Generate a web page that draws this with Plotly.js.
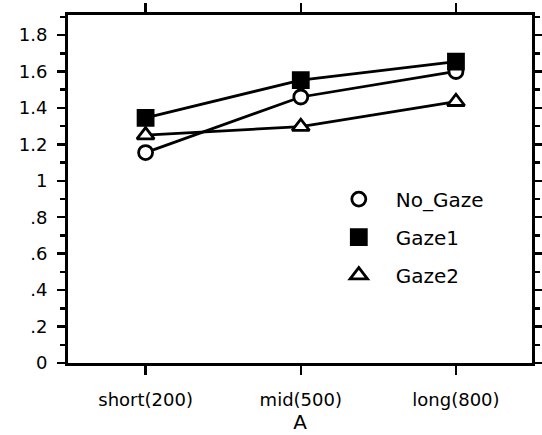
<!DOCTYPE html>
<html><head><meta charset="utf-8">
<script src="https://cdn.plot.ly/plotly-3.0.1.min.js"></script>
<style>html,body{margin:0;padding:0;background:#fff;}#chart{width:542px;height:435px;}</style>
</head><body><div id="chart"></div>
<script>
var categories = ['short(200)', 'mid(500)', 'long(800)'];
var noGaze = [1.155, 1.46, 1.60];
var gaze1 = [1.345, 1.553, 1.654];
var gaze2 = [1.251, 1.297, 1.434];
var yTickVals = [0, 0.2, 0.4, 0.6, 0.8, 1, 1.2, 1.4, 1.6, 1.8];
var yTickText = ['0', '.2', '.4', '.6', '.8', '1', '1.2', '1.4', '1.6', '1.8'];

var FONT = 'DejaVu Sans, Arial, sans-serif';
var series = [
  {name: 'No_Gaze', ys: noGaze, symbol: 'circle', size: 14, fill: '#fff', g: 'a'},
  {name: 'Gaze1', ys: gaze1, symbol: 'square', size: 15, fill: '#000', g: 'b'},
  {name: 'Gaze2', ys: gaze2, symbol: 'triangle-up', size: 15, fill: '#fff', g: 'c'}
];
var data = [];
series.forEach(function (s) {
  data.push({x: categories, y: s.ys, type: 'scatter', mode: 'lines', showlegend: false,
             hoverinfo: 'skip', line: {color: '#000', width: 2.8}});
});
series.forEach(function (s) {
  data.push({x: categories, y: s.ys, name: s.name, type: 'scatter', mode: 'markers',
             legendgroup: s.g,
             marker: {symbol: s.symbol, size: s.size, color: s.fill, line: {color: '#000', width: 2.8}}});
});

var layout = {
  width: 542, height: 435,
  margin: {l: 68, r: 10, t: 15, b: 72},
  paper_bgcolor: '#fff', plot_bgcolor: '#fff',
  font: {family: FONT, size: 18, color: '#000'},
  showlegend: true,
  legend: {x: 0.547, y: 0.527, xanchor: 'left', yanchor: 'top', bgcolor: 'rgba(0,0,0,0)',
           itemwidth: 64,
           traceorder: 'grouped', tracegroupgap: 9, font: {family: FONT, size: 20, color: '#000'}},
  xaxis: {
    type: 'category', range: [-0.5, 2.49], showgrid: false, zeroline: false,
    showline: true, linecolor: '#000', linewidth: 3, mirror: 'ticks',
    ticks: 'outside', ticklen: 9, tickwidth: 2.5, tickcolor: '#000',
    ticklabelstandoff: 9,
    title: {text: 'A', font: {family: FONT, size: 20}, standoff: 4}
  },
  yaxis: {
    range: [0, 1.91], showgrid: false, zeroline: false,
    showline: true, linecolor: '#000', linewidth: 3, mirror: 'ticks',
    tickmode: 'array', tickvals: yTickVals, ticktext: yTickText,
    ticks: 'outside', ticklen: 8, tickwidth: 2.5, tickcolor: '#000',
    ticklabelstandoff: 6,
    minor: {dtick: 0.1, ticks: 'outside', ticklen: 5, tickwidth: 2.5, tickcolor: '#000', showgrid: false}
  }
};
Plotly.newPlot('chart', data, layout, {displayModeBar: false, staticPlot: true});
</script>
</body></html>
